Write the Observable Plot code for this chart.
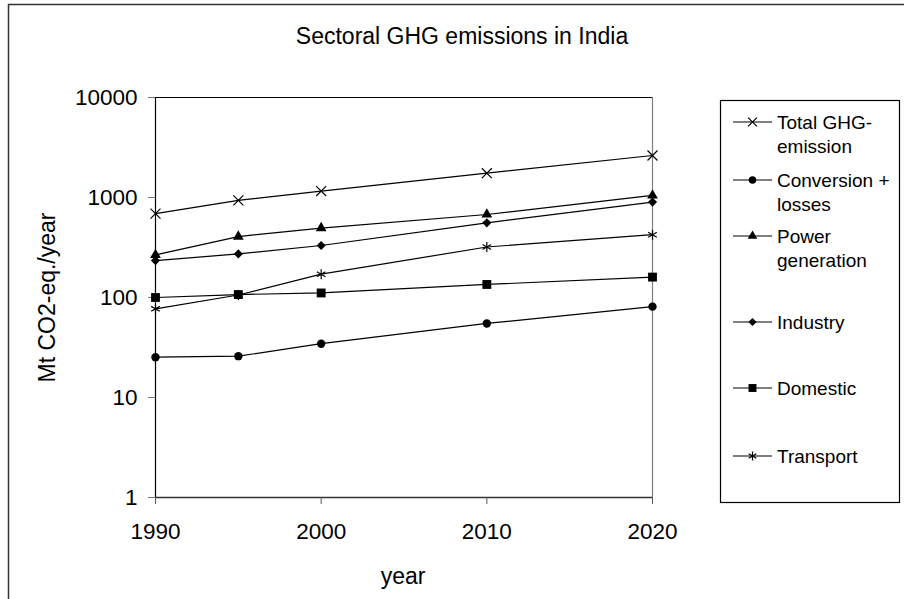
<!DOCTYPE html>
<html>
<head>
<meta charset="utf-8">
<script src="https://cdn.jsdelivr.net/npm/d3@7"></script>
<script src="https://cdn.jsdelivr.net/npm/@observablehq/plot@0.6"></script>
<style>
  html, body { margin: 0; padding: 0; background: #fff; }
  #chart { position: relative; width: 904px; height: 599px; overflow: hidden; }
</style>
</head>
<body>
<div id="chart"></div>
<script>
// ---- data ----
const years = [1990, 1995, 2000, 2010, 2020];
const xTicks = [1990, 2000, 2010, 2020];
const yTicks = [1, 10, 100, 1000, 10000];
const seriesNames = ["Total GHG-emission", "Conversion + losses", "Power generation", "Industry", "Domestic", "Transport"];
const legendLines = [["Total GHG-", "emission"], ["Conversion +", "losses"], ["Power", "generation"], ["Industry"], ["Domestic"], ["Transport"]];
const totalGHG   = [690, 935, 1160, 1750, 2630];
const conversion = [25.3, 25.9, 34.5, 55, 81];
const power      = [267, 407, 495, 676, 1050];
const industry   = [234, 273, 331, 558, 900];
const domestic   = [100, 107, 111, 135, 160];
const transport  = [77, 106, 171, 320, 425];
const titleText = "Sectoral GHG emissions in India";
const yLabel = "Mt CO2-eq./year";
const xLabel = "year";

// ---- styling per series ----
const seriesValues = [totalGHG, conversion, power, industry, domestic, transport];
const symbols = ["times", "circle", "triangle", "diamond2", "square", "asterisk"];
const filled  = [false, true, true, true, true, false];
const radii   = [4.6, 4.2, 4.0, 4.1, 5.0, 4.7];
const d3Sym = {times: d3.symbolTimes, circle: d3.symbolCircle, triangle: d3.symbolTriangle,
               diamond2: d3.symbolDiamond2, square: d3.symbolSquare, asterisk: d3.symbolAsterisk};

const data = seriesNames.flatMap((name, si) =>
  years.map((year, i) => ({series: name, year, value: seriesValues[si][i]})));

const W = 904, H = 599;
const font = "'Liberation Sans', Arial, sans-serif";

const dotMarks = seriesNames.map((name, si) =>
  Plot.dot(data.filter(d => d.series === name), {
    x: "year", y: "value", symbol: symbols[si], r: radii[si],
    fill: filled[si] ? "black" : "none",
    stroke: filled[si] ? "none" : "black",
    strokeWidth: 1.2
  }));

const plot = Plot.plot({
  width: W, height: H,
  marginLeft: 155, marginRight: W - 652, marginTop: 97, marginBottom: H - 497,
  style: {fontFamily: font, fontSize: "22.5px", background: "transparent", overflow: "visible", color: "black"},
  x: {domain: [1990, 2020]},
  y: {type: "log", domain: [1, 10000]},
  marks: [
    Plot.ruleY([10000], {stroke: "black", strokeWidth: 1.2}),
    Plot.ruleX([2020], {stroke: "#808080", strokeWidth: 1.2}),
    Plot.ruleX([1990], {stroke: "black", strokeWidth: 1.2}),
    Plot.ruleY([1], {stroke: "#333", strokeWidth: 1.5}),
    Plot.axisX({ticks: xTicks, tickFormat: "d", tickSize: 7, tickPadding: 19, label: null,
                fontSize: "22.5px", stroke: "#555"}),
    Plot.axisY({ticks: yTicks, tickFormat: d3.format("d"), tickSize: 7, tickPadding: 11, label: null,
                fontSize: "22.5px", stroke: "#777"}),
    Plot.line(data, {x: "year", y: "value", z: "series", stroke: "black", strokeWidth: 1.2}),
    ...dotMarks
  ]
});

document.getElementById("chart").appendChild(plot);

// ---- annotations: frame, title, axis titles, legend ----
const svg = d3.select(plot);
const g = svg.append("g").attr("font-family", font).attr("text-anchor", "start");

// outer chart-area border (left and top visible)
g.append("path").attr("d", `M8.5,${H + 5} V4.5 H${W + 5}`)
  .attr("fill", "none").attr("stroke", "#333").attr("stroke-width", 1.5);

g.append("text").attr("x", 462).attr("y", 44).attr("text-anchor", "middle")
  .attr("font-size", 23).attr("fill", "black").text(titleText);

g.append("text").attr("transform", "translate(55,297.5) rotate(-90)")
  .attr("text-anchor", "middle").attr("font-size", 23).attr("fill", "black").text(yLabel);

g.append("text").attr("x", 403).attr("y", 584).attr("text-anchor", "middle")
  .attr("font-size", 23).attr("fill", "black").text(xLabel);

// legend
g.append("rect").attr("x", 720.5).attr("y", 100.5).attr("width", 179).attr("height", 402)
  .attr("fill", "white").attr("stroke", "black").attr("stroke-width", 1.2);

const legendY = [122, 180, 236, 322, 388, 456];
seriesNames.forEach((name, si) => {
  const y = legendY[si];
  g.append("line").attr("x1", 733).attr("x2", 772).attr("y1", y).attr("y2", y)
    .attr("stroke", "black").attr("stroke-width", 1.2);
  const size = Math.PI * radii[si] * radii[si] * 0.8;
  g.append("path").attr("transform", `translate(752.5,${y})`)
    .attr("d", d3.symbol(d3Sym[symbols[si]], size)())
    .attr("fill", filled[si] ? "black" : "none")
    .attr("stroke", filled[si] ? "none" : "black").attr("stroke-width", 1.2);
  legendLines[si].forEach((t, li) => {
    g.append("text").attr("x", 777).attr("y", y + 6.5 + li * 24.5)
      .attr("text-anchor", "start")
      .attr("font-size", 19).attr("fill", "black").text(t);
  });
});
</script>
</body>
</html>
